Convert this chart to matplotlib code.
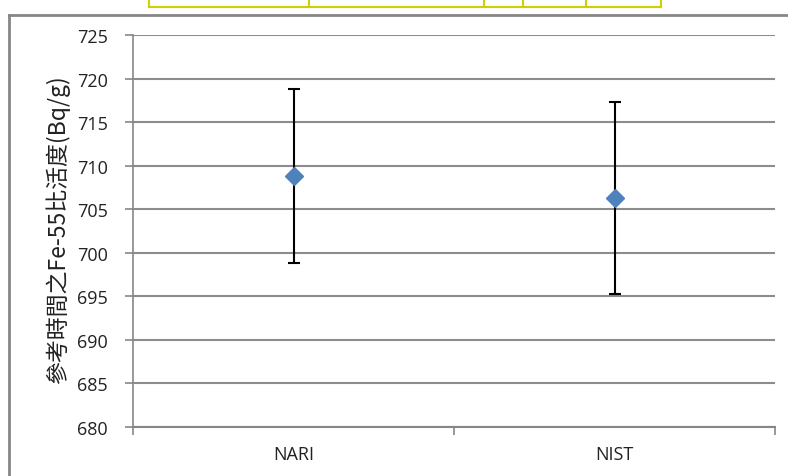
import numpy as np
import matplotlib.pyplot as plt
from matplotlib.lines import Line2D

# data
labels = ['NARI', 'NIST']
values = [708.8, 706.3]
errors = [10.0, 11.0]
yticks = np.arange(680, 726, 5)

W, H = 788, 477
fig = plt.figure(figsize=(W / 100, H / 100), dpi=100)
ax = fig.add_axes([133 / W, 1 - 428 / H, (775 - 133) / W, (428 - 36) / H])

x = np.arange(len(labels))
ax.errorbar(x, values, yerr=errors, fmt='none', ecolor='black',
            elinewidth=1.5, capsize=4, capthick=1.5, zorder=3)
ax.plot(x, values, 'D', color='#4F81BD', markersize=9, zorder=4)

ax.set_xlim(-0.5, 1.5)
ax.set_ylim(680, 725)
ax.set_yticks(yticks)
ax.set_yticklabels([str(v) for v in yticks])
ax.set_xticks(x)
ax.set_xticklabels(labels)
ax.set_xticks([-0.5, 0.5, 1.5], minor=True)
ax.tick_params(axis='x', which='major', length=0, pad=13)
ax.tick_params(axis='x', which='minor', length=6, color='#868686', width=1.2, direction='out')
ax.tick_params(axis='y', length=6, color='#868686', width=1.2, pad=12)
for lab in ax.get_xticklabels() + ax.get_yticklabels():
    lab.set_fontfamily('Open Sans')
    lab.set_fontsize(13)
    lab.set_color('#222222')

ax.grid(axis='y', color='#8C8C8C', linewidth=1.5)
ax.set_axisbelow(True)
for s in ['top', 'right']:
    ax.spines[s].set_visible(False)
ax.spines['left'].set_color('#868686')
ax.spines['bottom'].set_color('#868686')
ax.spines['left'].set_linewidth(1.2)
ax.spines['bottom'].set_linewidth(1.5)

fig.text(58 / W, 1 - 230 / H, '參考時間之Fe-55比活度(Bq/g)', rotation=90,
         ha='center', va='center', fontsize=16.5,
         family=['Noto Sans CJK TC', 'DejaVu Sans'], color='#222222')

# outer chart frame
fr = dict(color='#868686', linewidth=2, transform=fig.transFigure)
fig.add_artist(Line2D([8.5 / W, 8.5 / W], [0, 1 - 16 / H], **fr))
fig.add_artist(Line2D([8.5 / W, 1], [1 - 16 / H, 1 - 16 / H], **fr))

# cut-off table at the top
tb = dict(color='#D0D000', linewidth=1.5, transform=fig.transFigure)
fig.add_artist(Line2D([149 / W, 661 / W], [1 - 8 / H, 1 - 8 / H], **tb))
for cx in [149, 309, 484, 523, 586, 661]:
    fig.add_artist(Line2D([cx / W, cx / W], [1 - 8 / H, 1], **tb))

fig.savefig('out.png', dpi=100)
